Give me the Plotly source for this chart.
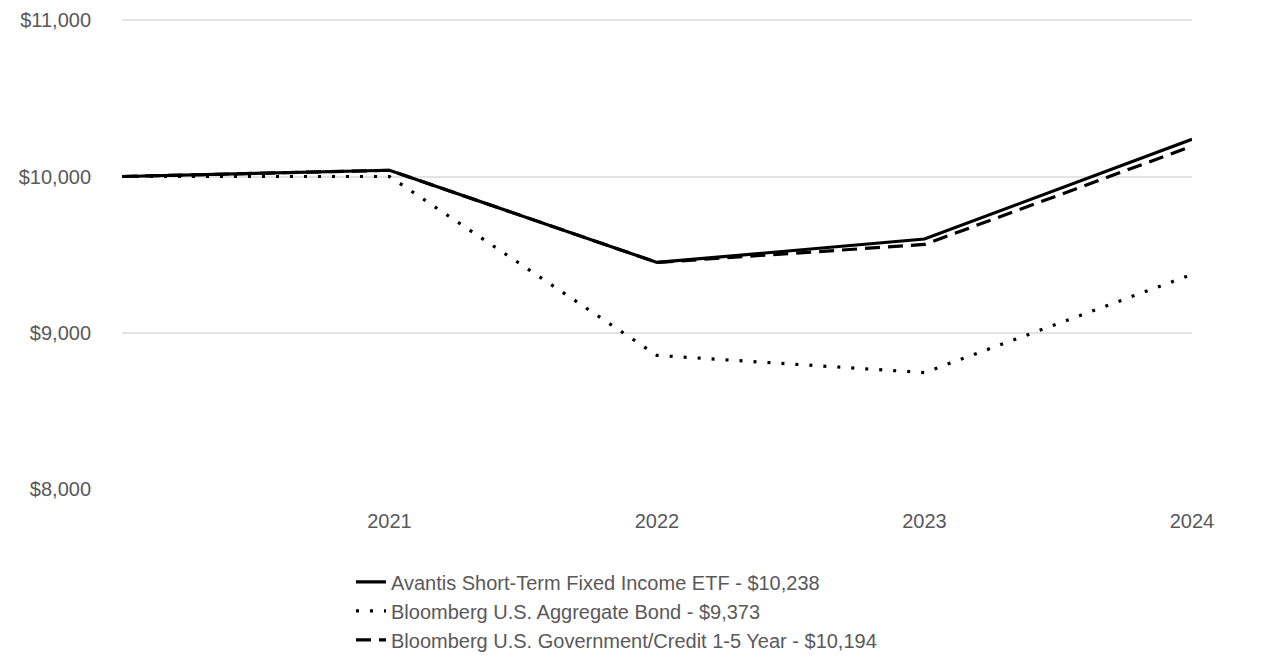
import plotly.graph_objects as go

years = [2020, 2021, 2022, 2023, 2024]
tick_years = [2021, 2022, 2023, 2024]
tick_labels = ["2021", "2022", "2023", "2024"]

avantis = [10000, 10040, 9450, 9600, 10238]
agg = [10000, 10000, 8855, 8745, 9373]
govcredit = [10000, 10040, 9450, 9565, 10194]

names = [
    "Avantis Short-Term Fixed Income ETF - $10,238",
    "Bloomberg U.S. Aggregate Bond - $9,373",
    "Bloomberg U.S. Government/Credit 1-5 Year - $10,194",
]

font_family = "Liberation Sans Narrow, Arial Narrow, Liberation Sans, Arial, sans-serif"
grey = "#595959"

fig = go.Figure()
fig.add_trace(go.Scatter(x=years, y=avantis, mode="lines", name=names[0],
                         line=dict(color="black", width=3.2)))
fig.add_trace(go.Scatter(x=years, y=agg, mode="lines", name=names[1],
                         line=dict(color="black", width=3.2, dash="3px,11px")))
fig.add_trace(go.Scatter(x=years, y=govcredit, mode="lines", name=names[2],
                         line=dict(color="black", width=3.2, dash="15px,8px")))

fig.update_layout(
    width=1286, height=672,
    margin=dict(l=114, r=102, t=11, b=191, autoexpand=False),
    paper_bgcolor="white", plot_bgcolor="white",
    font=dict(family=font_family, size=20, color=grey),
    showlegend=True,
    legend=dict(x=0.214, xanchor="left", y=0.175, yref="container",
                yanchor="top", orientation="v",
                font=dict(size=20, color=grey),
                tracegroupgap=0, itemwidth=30),
    xaxis=dict(range=[2020, 2024], tickvals=tick_years, ticktext=tick_labels,
               showgrid=False, zeroline=False, showline=False, ticks="",
               ticklabelstandoff=18),
    yaxis=dict(range=[8000, 11008], tickvals=[8000, 9000, 10000, 11000],
               tickformat="$,.0f", showgrid=True, gridcolor="#e3e3e3",
               gridwidth=1.5, zeroline=False, showline=False, ticks="",
               ticklabelstandoff=30),
)

fig.write_html("out.html")
